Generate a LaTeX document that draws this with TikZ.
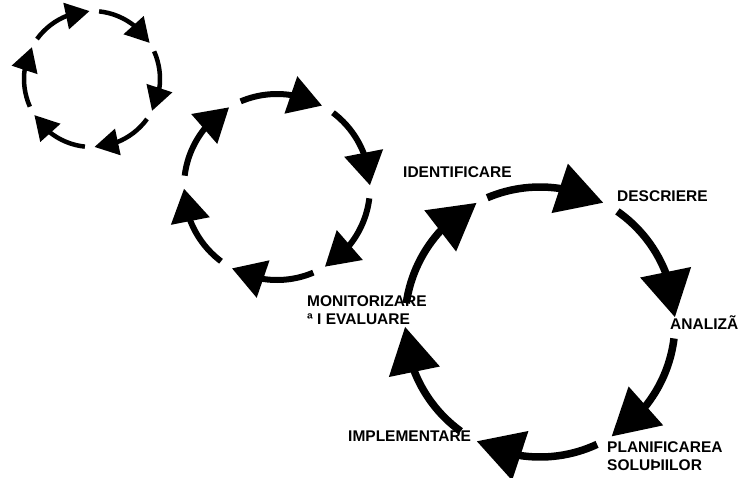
\documentclass[tikz,border=0pt]{standalone}
\usepackage{fontspec}
\setmainfont{Liberation Sans}
\usetikzlibrary{arrows.meta,bending}

\tikzset{
  smallarc/.style={line width=4.5pt,-{Triangle[length=24pt,width=26pt]}},
  midarc/.style={line width=6pt,-{Triangle[length=33pt,width=38pt]}},
  bigarc/.style={line width=7.5pt,-{Triangle[length=46pt,width=50pt]}},
  steplabel/.style={font={\fontsize{15.5}{17.5}\selectfont\bfseries},anchor=west,inner sep=0pt,align=left}
}

\begin{document}
\begin{tikzpicture}[x=1pt,y=1pt]

\useasboundingbox (0,0) rectangle (739,-477);

\coordinate (small) at (92,-79);
\coordinate (mid) at (277,-187);
\coordinate (big) at (540,-322);

% small cycle
\draw[smallarc] (small) ++(144:68) arc[start angle=144,end angle=92,radius=68];
\draw[smallarc] (small) ++(84:68) arc[start angle=84,end angle=32,radius=68];
\draw[smallarc] (small) ++(24:68) arc[start angle=24,end angle=-28,radius=68];
\draw[smallarc] (small) ++(-36:68) arc[start angle=-36,end angle=-88,radius=68];
\draw[smallarc] (small) ++(-96:68) arc[start angle=-96,end angle=-148,radius=68];
\draw[smallarc] (small) ++(-156:68) arc[start angle=-156,end angle=-208,radius=68];

% middle cycle
\draw[midarc] (mid) ++(113:93) arc[start angle=113,end angle=61,radius=93];
\draw[midarc] (mid) ++(53:93) arc[start angle=53,end angle=1,radius=93];
\draw[midarc] (mid) ++(-7:93) arc[start angle=-7,end angle=-59,radius=93];
\draw[midarc] (mid) ++(-67:93) arc[start angle=-67,end angle=-119,radius=93];
\draw[midarc] (mid) ++(-127:93) arc[start angle=-127,end angle=-179,radius=93];
\draw[midarc] (mid) ++(-187:93) arc[start angle=-187,end angle=-239,radius=93];

% big cycle
\draw[bigarc] (big) ++(113:135) arc[start angle=113,end angle=62,radius=135];
\draw[bigarc] (big) ++(55:135) arc[start angle=55,end angle=2,radius=135];
\draw[bigarc] (big) ++(-7:135) arc[start angle=-7,end angle=-58,radius=135];
\draw[bigarc] (big) ++(-65:135) arc[start angle=-65,end angle=-118,radius=135];
\draw[bigarc] (big) ++(-126:135) arc[start angle=-126,end angle=-178,radius=135];
\draw[bigarc] (big) ++(-188:135) arc[start angle=-188,end angle=-242,radius=135];

% labels
\node[steplabel] (identif) at (403,-172) {IDENTIFICARE};
\node[steplabel] (descr) at (617,-196) {DESCRIERE};
\node[steplabel] (anal) at (670,-323) {ANALIZÃ};
\node[steplabel] (planif) at (607,-456) {PLANIFICAREA\\SOLUÞIILOR};
\node[steplabel] (implem) at (348,-436) {IMPLEMENTARE};
\node[steplabel] (monit) at (307,-310) {MONITORIZARE\\ª I EVALUARE};

\end{tikzpicture}
\end{document}
